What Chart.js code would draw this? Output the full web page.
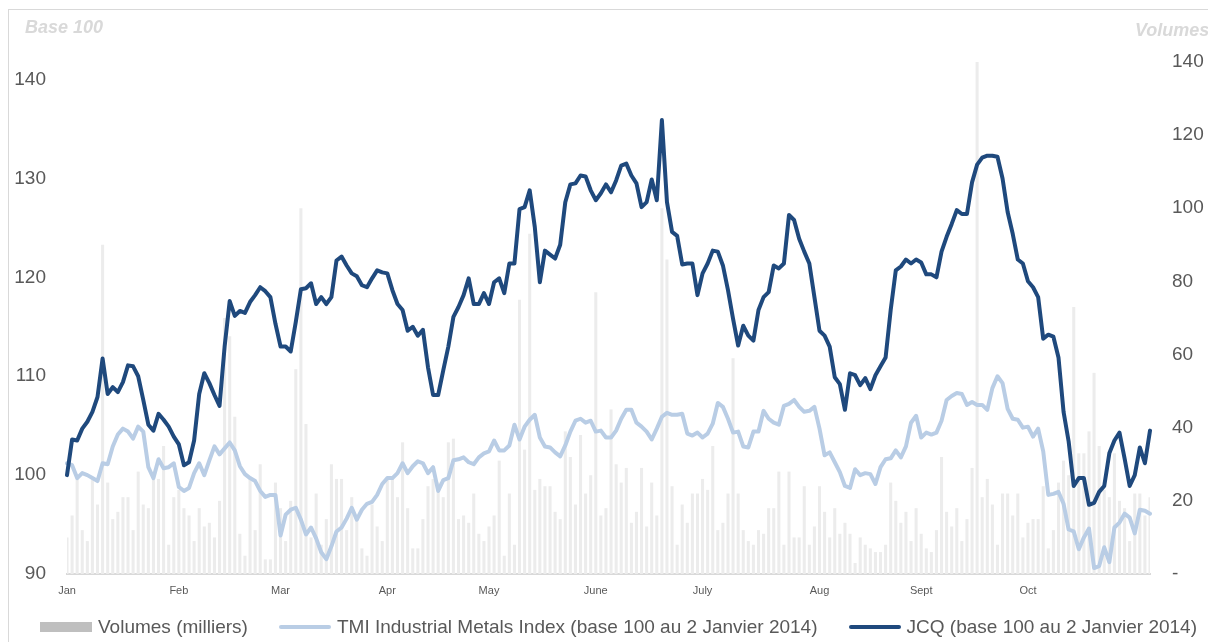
<!DOCTYPE html>
<html>
<head>
<meta charset="utf-8">
<script src="https://cdn.jsdelivr.net/npm/chart.js@4.4.1/dist/chart.umd.min.js"></script>
<style>
  html, body { margin: 0; padding: 0; background: #fff; }
  body { width: 1208px; height: 642px; overflow: hidden; position: relative; font-family: "Liberation Sans", Arial, sans-serif; }
  #frame { position: absolute; left: 8px; top: 9px; width: 1300px; height: 700px; border: 1px solid #d9d9d9; }
  #wrap { position: absolute; left: 0; top: 0; width: 1208px; height: 642px; }
  .axisTitle { position: absolute; font-weight: bold; font-style: italic; font-size: 18px; line-height: 1; color: #d9d9d9; white-space: nowrap; }
  #leftTitle { left: 25px; top: 18px; }
  #rightTitle { left: 1135px; top: 21px; }
  #legend { position: absolute; left: 40px; width: 1157px; top: 617px; height: 19px; display: flex; justify-content: space-between; align-items: center; font-size: 19px; line-height: 1; color: #595959; }
  .item { display: flex; align-items: center; white-space: nowrap; }
  .swatch { width: 52px; margin-right: 6px; }
</style>
</head>
<body>
<div id="frame"></div>
<div id="wrap"><canvas id="chart" width="1208" height="642"></canvas></div>
<div class="axisTitle" id="leftTitle">Base 100</div>
<div class="axisTitle" id="rightTitle">Volumes</div>
<div id="legend"></div>
<script>
// month labels and the trading day (index) where each month starts
var monthNames = ['Jan', 'Feb', 'Mar', 'Apr', 'May', 'June', 'July', 'Aug', 'Sept', 'Oct'];
var monthStarts = [0, 22, 42, 63, 83, 104, 125, 148, 168, 189];

var leftTicks = [90, 100, 110, 120, 130, 140];
var rightTicks = [0, 20, 40, 60, 80, 100, 120, 140];

// volumes (milliers), one per trading day
var volumes = [
  10, 16, 27, 12, 9, 26, 19, 90, 25, 15, 17, 21, 21, 12, 28, 19, 18, 26, 26, 35,
  8, 21, 23, 18, 16, 9, 18, 13, 14, 10, 20, 70, 65, 43, 11, 5, 26, 12, 30, 4,
  4, 25, 18, 9, 20, 56, 100, 41, 10, 22, 8, 15, 30, 26, 26, 12, 21, 15, 7, 5,
  19, 13, 9, 26, 26, 21, 36, 18, 7, 7, 15, 24, 26, 25, 21, 36, 37, 15, 16, 14,
  22, 11, 9, 13, 16, 31, 5, 22, 8, 75, 34, 93, 23, 26, 24, 24, 17, 15, 39, 32,
  19, 38, 22, 27, 77, 16, 18, 45, 30, 25, 29, 14, 17, 29, 13, 25, 16, 100, 86, 24,
  8, 19, 14, 22, 22, 26, 23, 35, 12, 14, 22, 59, 22, 12, 9, 8, 12, 11, 18, 18,
  28, 8, 28, 10, 10, 24, 8, 13, 24, 17, 10, 18, 11, 14, 11, 3, 10, 8, 7, 6,
  6, 8, 25, 20, 14, 17, 9, 18, 11, 7, 6, 12, 32, 17, 13, 18, 9, 15, 29, 140,
  21, 26, 19, 8, 22, 22, 16, 22, 10, 14, 15, 15, 24, 7, 12, 25, 31, 27, 73, 33,
  33, 39, 55, 35, 23, 21, 33, 20, 18, 9, 22, 22, 16, 21
];

// TMI Industrial Metals Index, base 100
var tmi = [
  101.2, 101.0, 99.7, 100.2, 100.0, 99.7, 99.4, 101.2, 101.1, 102.9,
  104.1, 104.7, 104.4, 103.7, 104.9, 104.4, 100.8, 99.7, 101.6, 100.7,
  100.8, 101.2, 98.8, 98.4, 98.7, 100.2, 101.2, 100.0, 101.5, 102.9,
  102.1, 102.7, 103.3, 102.5, 100.9, 100.1, 99.7, 99.4, 98.4, 97.8,
  98.0, 98.0, 93.9, 96.0, 96.5, 96.7, 95.5, 94.0, 94.7, 93.6,
  92.2, 91.5, 92.8, 94.3, 94.7, 95.6, 96.7, 95.5, 96.5, 97.1,
  97.3, 98.0, 99.1, 99.7, 99.7, 100.2, 101.2, 100.2, 100.9, 101.4,
  101.2, 100.2, 100.8, 98.4, 99.5, 99.7, 101.5, 101.6, 101.8, 101.3,
  101.1, 101.8, 102.2, 102.4, 103.5, 102.5, 102.5, 103.0, 105.1, 103.6,
  104.9, 105.6, 106.1, 103.8, 102.9, 102.8, 102.3, 101.9, 103.0, 104.4,
  105.5, 105.7, 105.3, 105.5, 104.4, 104.5, 103.8, 103.8, 104.5, 105.7,
  106.6, 106.6, 105.3, 104.9, 104.4, 103.6, 104.7, 105.9, 106.3, 106.1,
  106.1, 106.2, 104.2, 104.0, 104.3, 103.8, 104.2, 105.2, 107.3, 106.9,
  105.7, 104.3, 104.4, 102.9, 102.8, 104.4, 104.4, 106.5, 105.7, 105.3,
  105.1, 107.0, 107.2, 107.6, 106.9, 106.4, 106.5, 106.9, 104.7, 102.0,
  102.3, 101.3, 100.3, 98.9, 98.7, 100.6, 100.0, 100.2, 100.1, 99.1,
  100.8, 101.6, 101.7, 102.5, 101.8, 102.9, 105.3, 106.0, 103.8, 104.3,
  104.1, 104.3, 105.5, 107.6, 108.0, 108.3, 108.2, 107.1, 107.4, 107.1,
  107.1, 106.6, 108.8, 110.0, 109.3, 106.7, 105.7, 105.6, 104.8, 104.9,
  103.9, 104.7, 102.4, 98.0, 98.1, 98.3, 97.1, 94.5, 94.3, 92.5,
  93.7, 94.6, 90.6, 90.8, 92.7, 91.2, 94.7, 95.2, 96.1, 95.7,
  94.1, 96.5, 96.4, 96.1
];

// JCQ, base 100
var jcq = [
  100.0, 103.6, 103.5, 104.7, 105.4, 106.4, 107.9, 111.8, 108.2, 108.9,
  108.4, 109.4, 111.1, 111.0, 110.0, 107.6, 105.1, 104.5, 106.2, 105.6,
  104.9, 103.9, 103.1, 101.0, 101.3, 103.5, 108.2, 110.3, 109.3, 108.1,
  107.0, 113.0, 117.6, 116.1, 116.6, 116.4, 117.5, 118.2, 119.0, 118.6,
  118.0, 115.3, 113.0, 113.0, 112.5, 115.5, 118.8, 118.9, 119.4, 117.3,
  118.0, 117.3, 118.0, 121.7, 122.1, 121.2, 120.4, 120.1, 119.2, 119.0,
  119.9, 120.7, 120.5, 120.4, 118.7, 117.3, 116.7, 114.6, 115.0, 114.1,
  114.7, 110.9, 108.1, 108.1, 110.6, 113.0, 116.0, 117.0, 118.2, 119.9,
  117.3, 117.3, 118.4, 117.3, 119.5, 119.9, 118.4, 121.4, 121.4, 126.9,
  127.1, 128.8, 125.1, 119.5, 122.7, 122.3, 121.9, 123.3, 127.6, 129.4,
  129.5, 130.3, 130.2, 128.8, 127.8, 128.5, 129.4, 128.6, 129.8, 131.3,
  131.5, 130.3, 129.5, 127.1, 127.6, 129.9, 127.8, 135.9, 127.6, 124.6,
  124.2, 121.3, 121.4, 121.4, 118.2, 120.4, 121.4, 122.7, 122.6, 121.2,
  118.7, 115.8, 113.1, 115.1, 114.1, 113.6, 116.7, 118.0, 118.5, 121.2,
  120.9, 121.4, 126.3, 125.8, 123.9, 122.6, 121.4, 118.0, 114.6, 114.1,
  113.0, 109.9, 109.2, 106.6, 110.3, 110.1, 109.1, 109.8, 108.7, 110.1,
  111.0, 111.9, 116.7, 120.7, 121.1, 121.8, 121.4, 121.8, 121.5, 120.3,
  120.3, 120.0, 122.6, 124.1, 125.4, 126.8, 126.4, 126.4, 129.6, 131.4,
  132.1, 132.3, 132.3, 132.2, 130.0, 126.6, 124.4, 121.8, 121.4, 119.6,
  119.0, 118.0, 113.8, 114.2, 114.0, 111.9, 106.4, 103.4, 98.9, 99.7,
  99.7, 97.0, 97.2, 98.3, 98.9, 102.2, 103.5, 104.3, 101.7, 98.9,
  100.0, 102.8, 101.2, 104.5
];

var barColor = '#ececec';
var barLegendColor = '#bfbfbf';
var tmiColor = '#b9cde5';
var jcqColor = '#1f497d';

// category labels: month name on the first trading day of each month
var labels = jcq.map(function (v, i) {
  var m = monthStarts.indexOf(i);
  return m >= 0 ? monthNames[m] : '';
});

Chart.defaults.font.family = "'Liberation Sans', Arial, sans-serif";
Chart.defaults.color = '#595959';

var ctx = document.getElementById('chart').getContext('2d');
var chart = new Chart(ctx, {
  data: {
    labels: labels,
    datasets: [{
      type: 'bar',
      label: 'Volumes (milliers)',
      data: volumes,
      yAxisID: 'y1',
      backgroundColor: barColor,
      barPercentage: 0.6,
      categoryPercentage: 1,
      order: 3
    }, {
      type: 'line',
      label: 'TMI Industrial Metals Index (base 100 au 2 Janvier 2014)',
      data: tmi,
      yAxisID: 'y',
      borderColor: tmiColor,
      borderWidth: 4,
      borderJoinStyle: 'round',
      borderCapStyle: 'round',
      pointRadius: 0,
      tension: 0,
      order: 2
    }, {
      type: 'line',
      label: 'JCQ (base 100 au 2 Janvier 2014)',
      data: jcq,
      yAxisID: 'y',
      borderColor: jcqColor,
      borderWidth: 4,
      borderJoinStyle: 'round',
      borderCapStyle: 'round',
      pointRadius: 0,
      tension: 0,
      order: 1
    }]
  },
  options: {
    responsive: false,
    animation: false,
    layout: { padding: { top: 40, left: 0, right: 0, bottom: 0 } },
    plugins: {
      legend: { display: false },
      tooltip: { enabled: false }
    },
    scales: {
      x: {
        offset: false,
        grid: { display: false, drawTicks: false },
        border: { color: '#d9d9d9', width: 2 },
        ticks: { autoSkip: false, maxRotation: 0, padding: 10, font: { size: 11 } },
        afterFit: function (scale) { scale.height = 68; }
      },
      y: {
        position: 'left',
        min: 90,
        max: 144,
        grid: { display: false, drawTicks: false },
        border: { display: false },
        ticks: { padding: 21, font: { size: 19 } },
        afterBuildTicks: function (scale) {
          scale.ticks = leftTicks.map(function (v) { return { value: v }; });
        },
        afterFit: function (scale) { scale.width = 67; }
      },
      y1: {
        position: 'right',
        min: 0,
        max: 146,
        grid: { display: false, drawTicks: false },
        border: { display: false },
        ticks: {
          padding: 22,
          font: { size: 19 },
          callback: function (v) { return v === 0 ? '-' : v; }
        },
        afterBuildTicks: function (scale) {
          scale.ticks = rightTicks.map(function (v) { return { value: v }; });
        },
        afterFit: function (scale) { scale.width = 58; }
      }
    }
  }
});

// html legend built from the datasets
var legendEl = document.getElementById('legend');
chart.data.datasets.forEach(function (ds) {
  var item = document.createElement('div');
  item.className = 'item';
  var sw = document.createElement('div');
  sw.className = 'swatch';
  if (ds.type === 'bar') {
    sw.style.height = '10px';
    sw.style.background = barLegendColor;
  } else {
    sw.style.height = '4px';
    sw.style.borderRadius = '2px';
    sw.style.background = ds.borderColor;
  }
  var txt = document.createElement('span');
  txt.textContent = ds.label;
  item.appendChild(sw);
  item.appendChild(txt);
  legendEl.appendChild(item);
});
</script>
</body>
</html>
